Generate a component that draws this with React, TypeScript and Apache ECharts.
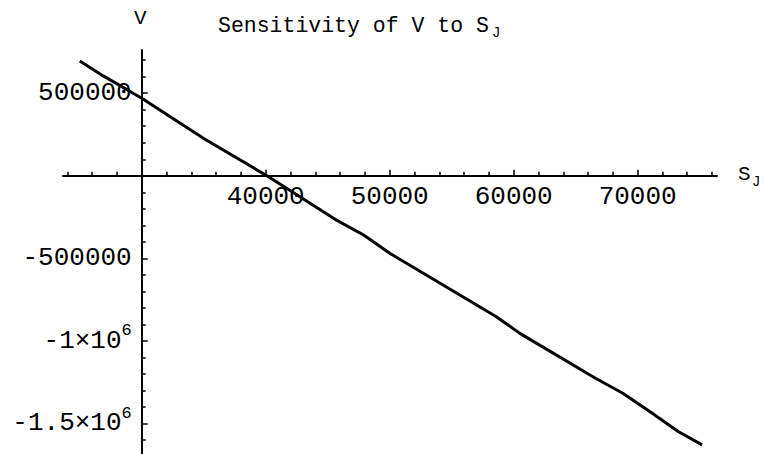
import React, { useEffect, useRef } from "react";
import * as echarts from "echarts";

// Sampled curve: value V against S_J
const sjValues = [25000, 26900, 30000, 35100, 40100, 45600, 47900, 50000, 56100, 58600, 60500, 66600, 68800, 71000, 73300, 75200];
const vValues = [695000, 605000, 470000, 221000, 0, -264000, -359000, -470000, -742000, -854000, -955000, -1227000, -1318000, -1430000, -1551000, -1631000];

// Axis extents and tick marks
const xRange = [23650, 76400];
const yRange = [-1686000, 762000];
const xCross = 30000;
const yCross = 0;
const xMajorTicks = [40000, 50000, 60000, 70000];
const xMinorTicks = [24000, 26000, 28000, 32000, 34000, 36000, 38000, 42000, 44000, 46000, 48000, 52000, 54000, 56000, 58000, 62000, 64000, 66000, 68000, 72000, 74000, 76000];
const yMajorTicks = [500000, -500000, -1000000, -1500000];
const yMinorTicks = [700000, 600000, 400000, 300000, 200000, 100000, -100000, -200000, -300000, -400000, -600000, -700000, -800000, -900000, -1100000, -1200000, -1300000, -1400000, -1600000];

const FONT = "Liberation Mono";
const W = 764;
const H = 454;
const GRID = { left: 63, right: 47, top: 50, bottom: 0 };

const formatV = (v: number) => {
  if (Math.abs(v) >= 1000000) {
    const m = v / 1000000;
    return `${m < 0 ? "-" : ""}${Math.abs(m)}×10{sup|6}`;
  }
  return String(v);
};

export default function App() {
  const ref = useRef<HTMLDivElement>(null);

  useEffect(() => {
    if (!ref.current) return;
    const chart = echarts.init(ref.current, null, { renderer: "svg" });
    const gridW = W - GRID.left - GRID.right;
    const gridH = H - GRID.top - GRID.bottom;
    // axes cross at (xCross, yCross)
    const yOffset = -((xCross - xRange[0]) / (xRange[1] - xRange[0])) * gridW;
    const xOffset = -((yCross - yRange[0]) / (yRange[1] - yRange[0])) * gridH;

    const baseX = {
      type: "value" as const,
      min: xRange[0],
      max: xRange[1],
      position: "bottom" as const,
      offset: xOffset,
      splitLine: { show: false },
    };
    const baseY = {
      type: "value" as const,
      min: yRange[0],
      max: yRange[1],
      position: "left" as const,
      offset: yOffset,
      splitLine: { show: false },
    };

    chart.setOption({
      animation: false,
      backgroundColor: "#ffffff",
      grid: { ...GRID, containLabel: false, outerBoundsMode: "none" },
      xAxis: [
        {
          ...baseX,
          axisLine: { onZero: false, lineStyle: { color: "#000", width: 2 } },
          axisTick: { inside: true, length: 6, customValues: xMajorTicks, lineStyle: { color: "#000", width: 1.5 } },
          axisLabel: {
            customValues: xMajorTicks,
            formatter: (v: number) => String(v),
            margin: 8,
            color: "#000",
            fontFamily: FONT,
            fontSize: 26,
          },
        },
        {
          ...baseX,
          axisLine: { show: false, onZero: false },
          axisTick: { inside: true, length: 4, customValues: xMinorTicks, lineStyle: { color: "#000", width: 1.5 } },
          axisLabel: { show: false },
        },
      ],
      yAxis: [
        {
          ...baseY,
          axisLine: { onZero: false, lineStyle: { color: "#000", width: 2 } },
          axisTick: { inside: true, length: 6, customValues: yMajorTicks, lineStyle: { color: "#000", width: 1.5 } },
          axisLabel: {
            customValues: yMajorTicks,
            margin: 10,
            color: "#000",
            fontFamily: FONT,
            fontSize: 26,
            formatter: formatV,
            rich: {
              sup: { fontFamily: FONT, fontSize: 17, color: "#000", verticalAlign: "top", padding: [0, 0, 20, 0] },
            },
          },
        },
        {
          ...baseY,
          axisLine: { show: false, onZero: false },
          axisTick: { inside: true, length: 4, customValues: yMinorTicks, lineStyle: { color: "#000", width: 1.5 } },
          axisLabel: { show: false },
        },
      ],
      series: [
        {
          type: "line",
          data: sjValues.map((s, i) => [s, vValues[i]]),
          showSymbol: false,
          symbol: "none",
          lineStyle: { color: "#000", width: 3 },
        },
      ],
      graphic: [
        {
          type: "text",
          left: 218,
          top: 15,
          style: { text: "Sensitivity of V to S", fontFamily: FONT, fontSize: 21.5, fill: "#000" },
        },
        {
          type: "text",
          left: 492,
          top: 26,
          style: { text: "J", fontFamily: FONT, fontSize: 14, fill: "#000" },
        },
        {
          type: "text",
          left: 134,
          top: 8,
          style: { text: "V", fontFamily: FONT, fontSize: 21, fill: "#000" },
        },
        {
          type: "text",
          left: 738,
          top: 164,
          style: { text: "S", fontFamily: FONT, fontSize: 21, fill: "#000" },
        },
        {
          type: "text",
          left: 752,
          top: 175,
          style: { text: "J", fontFamily: FONT, fontSize: 14, fill: "#000" },
        },
      ],
    });
    return () => chart.dispose();
  }, []);

  return <div ref={ref} style={{ position: "absolute", left: 0, top: 0, width: W, height: H }} />;
}
